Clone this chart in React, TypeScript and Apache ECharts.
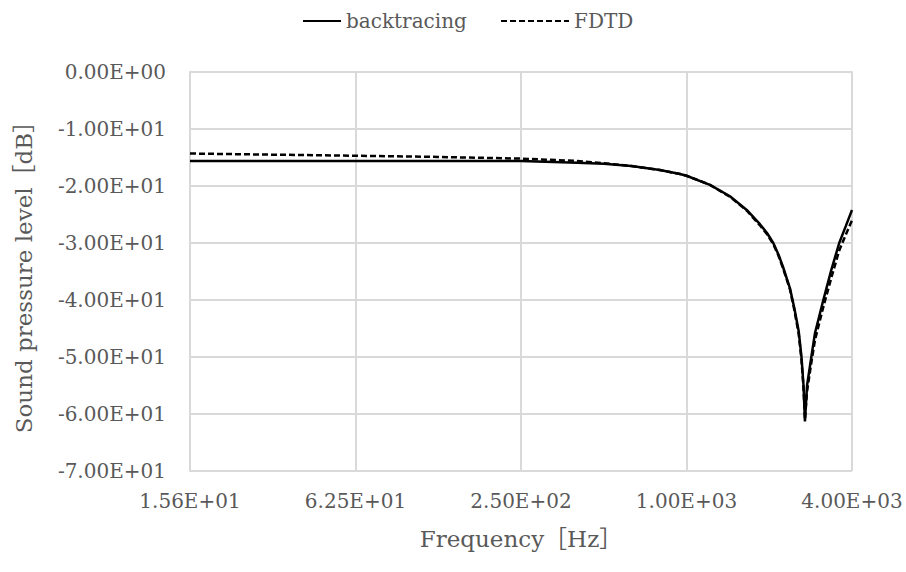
import React, { useEffect, useRef } from "react";
import * as echarts from "echarts";

const freqHz = [15.625, 31.25, 62.5, 125, 250, 400, 500, 630, 800, 947, 1000, 1217, 1439, 1656, 1850, 1960, 2069, 2160, 2248, 2378, 2467, 2560, 2620, 2665, 2697, 2745, 2845, 2934, 3146, 3360, 3594, 3800, 4000];
const backtracing = [-15.6, -15.6, -15.6, -15.6, -15.6, -15.9, -16.1, -16.5, -17.2, -17.9, -18.2, -19.8, -21.8, -24.2, -26.7, -28.2, -30.0, -32.0, -34.3, -37.9, -41.4, -45.5, -50.0, -55.0, -61.3, -55.0, -50.0, -45.8, -40.0, -34.8, -30.0, -27.0, -24.2];
const fdtd = [-14.3, -14.5, -14.7, -14.9, -15.2, -15.6, -16.0, -16.5, -17.2, -17.9, -18.2, -19.8, -21.9, -24.3, -26.9, -28.4, -30.2, -32.2, -34.5, -38.1, -41.7, -46.0, -50.5, -55.5, -61.0, -56.0, -51.0, -47.0, -41.2, -36.2, -31.3, -28.5, -26.0];

const xTickValues = [15.625, 62.5, 250, 1000, 4000];
const xTickLabels = ["1.56E+01", "6.25E+01", "2.50E+02", "1.00E+03", "4.00E+03"];
const yTickValues = [0, -10, -20, -30, -40, -50, -60, -70];
const yTickLabels = ["0.00E+00", "-1.00E+01", "-2.00E+01", "-3.00E+01", "-4.00E+01", "-5.00E+01", "-6.00E+01", "-7.00E+01"];

const FONT = "'DejaVu Serif', 'Noto Sans CJK JP', serif";
const TXT = "#595959";
const GRIDC = "#d9d9d9";

export default function App() {
  const ref = useRef<HTMLDivElement>(null);
  useEffect(() => {
    if (!ref.current) return;
    const chart = echarts.init(ref.current, null, { renderer: "svg" });
    const xLabel = (v: number) => {
      for (let i = 0; i < xTickValues.length; i++) {
        if (Math.abs(v - xTickValues[i]) / xTickValues[i] < 1e-3) return xTickLabels[i];
      }
      return "";
    };
    const yLabel = (v: number) => {
      for (let i = 0; i < yTickValues.length; i++) {
        if (Math.abs(v - yTickValues[i]) < 1e-6) return yTickLabels[i];
      }
      return "";
    };
    const legendBase = {
      top: 6,
      itemHeight: 14,
      itemGap: 0,
      itemStyle: { opacity: 0, borderWidth: 0 },
      textStyle: { color: TXT, fontSize: 20, fontFamily: FONT },
    };
    chart.setOption({
      animation: false,
      backgroundColor: "#ffffff",
      textStyle: { fontFamily: FONT },
      legend: [
        { ...legendBase, data: ["backtracing"], left: 297, itemWidth: 38 },
        { ...legendBase, data: ["FDTD"], left: 495, itemWidth: 68 },
      ],
      grid: { left: 190, right: 54, top: 72, bottom: 101, containLabel: false },
      xAxis: {
        type: "log",
        logBase: 4,
        min: 15.625,
        max: 4000,
        name: "Frequency［Hz］",
        nameLocation: "middle",
        nameGap: 56,
        nameTextStyle: { color: TXT, fontSize: 23, fontFamily: FONT },
        axisLine: { show: true, lineStyle: { color: GRIDC, width: 2 } },
        axisTick: { show: false, customValues: xTickValues },
        axisLabel: {
          customValues: xTickValues,
          formatter: xLabel,
          color: TXT,
          fontSize: 20,
          fontFamily: FONT,
          margin: 20,
        },
        splitLine: { show: true, lineStyle: { color: GRIDC, width: 2 } },
      },
      yAxis: {
        type: "value",
        min: -70,
        max: 0,
        interval: 10,
        name: "Sound pressure level［dB］",
        nameLocation: "middle",
        nameGap: 155,
        nameTextStyle: { color: TXT, fontSize: 23, fontFamily: FONT },
        axisLine: { show: true, lineStyle: { color: GRIDC, width: 2 } },
        axisTick: { show: false },
        axisLabel: { formatter: yLabel, color: TXT, fontSize: 20, fontFamily: FONT, margin: 24 },
        splitLine: { show: true, lineStyle: { color: GRIDC, width: 2 } },
      },
      series: [
        {
          name: "backtracing",
          type: "line",
          symbol: "none",
          data: freqHz.map((f, i) => [f, backtracing[i]]),
          lineStyle: { color: "#000000", width: 2.5 },
          itemStyle: { color: "#000000" },
          z: 3,
        },
        {
          name: "FDTD",
          type: "line",
          symbol: "none",
          data: freqHz.map((f, i) => [f, fdtd[i]]),
          lineStyle: { color: "#000000", width: 2.5, type: [6, 3] },
          itemStyle: { color: "#000000" },
          z: 2,
        },
      ],
    });
    return () => chart.dispose();
  }, []);
  return <div ref={ref} style={{ width: 906, height: 572, position: "absolute", left: 0, top: 0 }} />;
}
